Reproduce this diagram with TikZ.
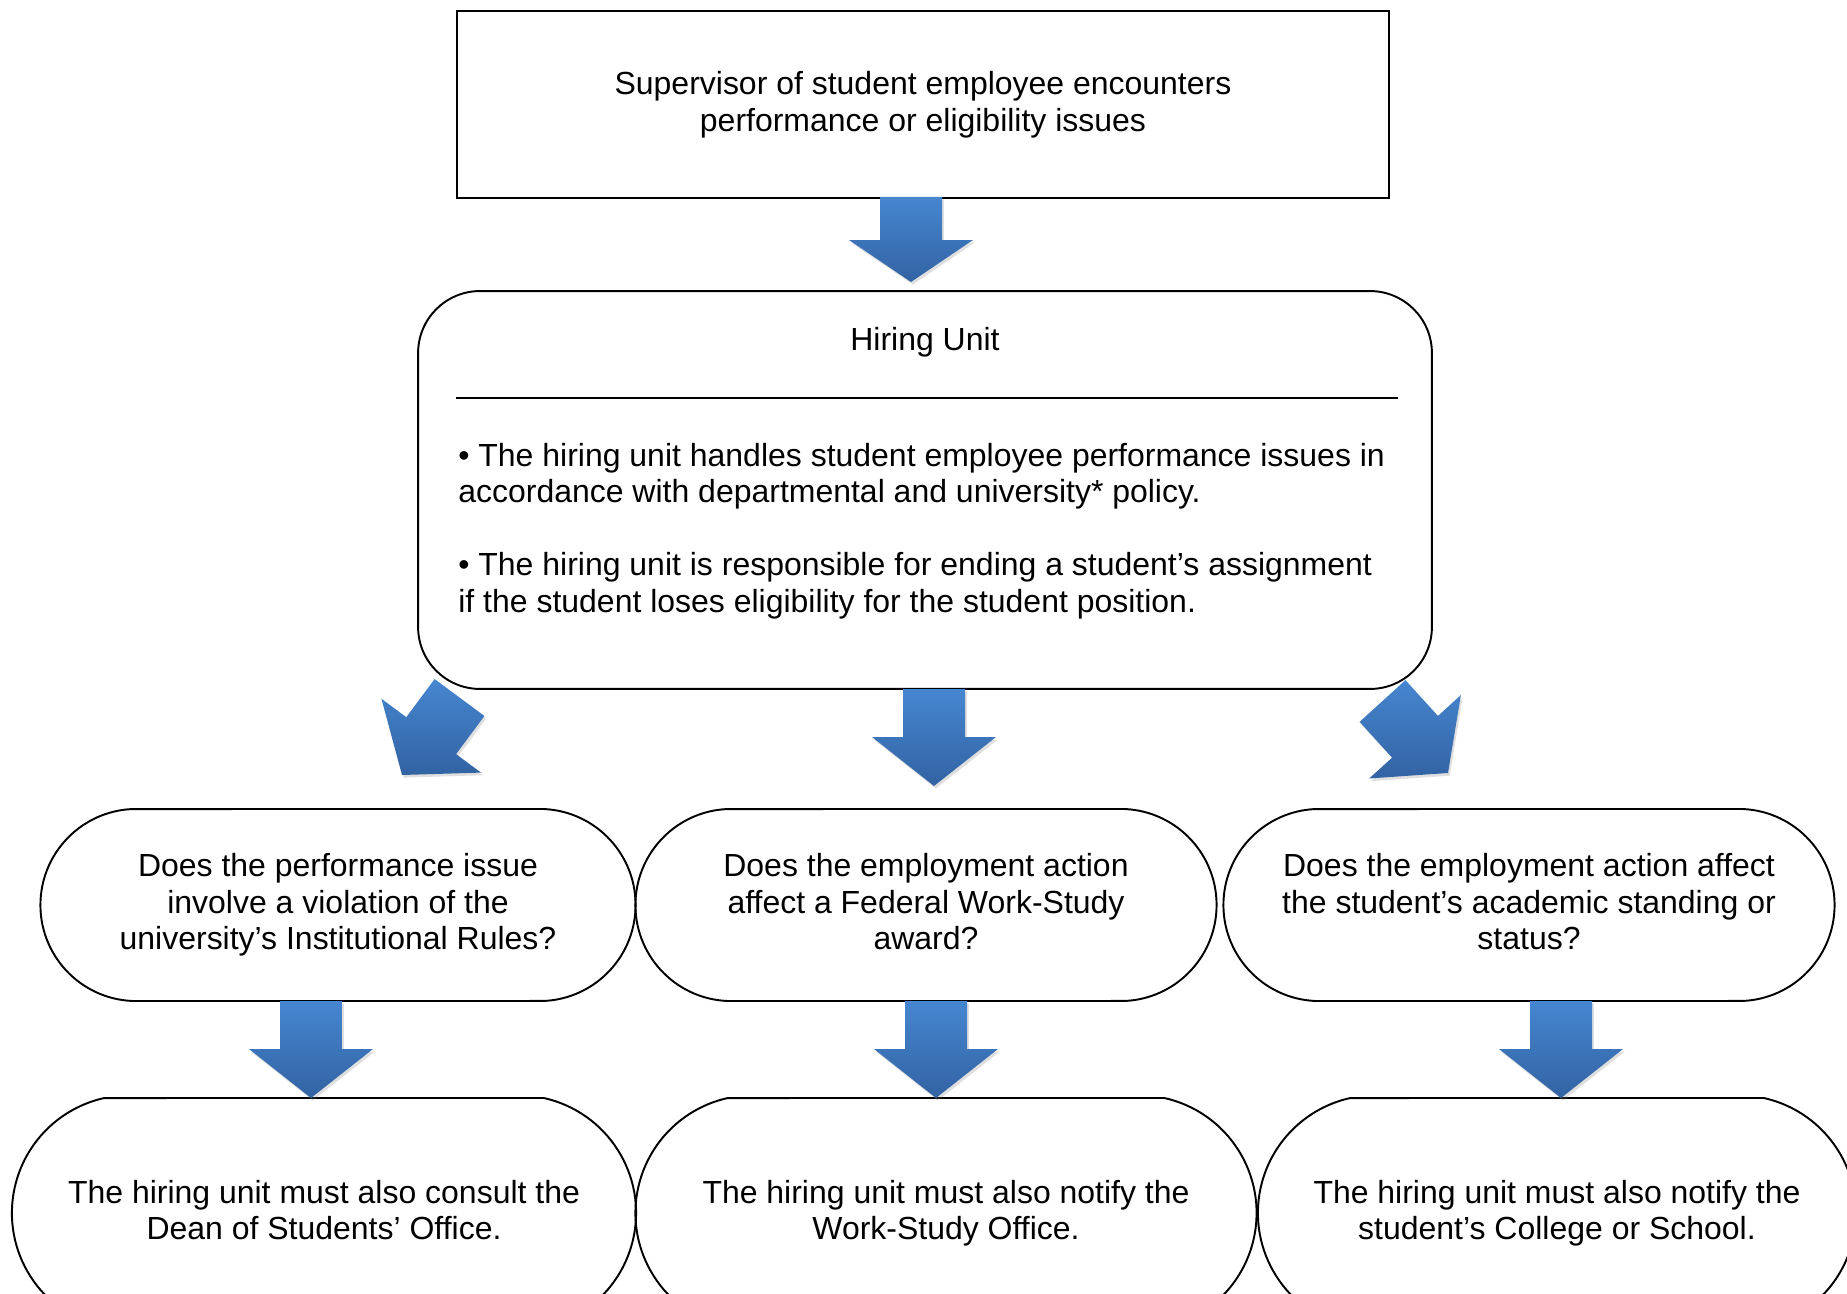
\documentclass[tikz,border=0pt]{standalone}
\usepackage{fontspec}
\setmainfont{Liberation Sans}
\usetikzlibrary{calc,shapes.misc,shadows}
\definecolor{arrowtop}{RGB}{70,134,208}
\definecolor{arrowbot}{RGB}{50,99,163}

\newcommand{\blockarrow}[5]{%
\coordinate (ba-n) at ($(#2)!#5!(#1)$);
\shade[blockfill] ($(#1)!#3!90:(#2)$) -- ($(ba-n)!#3!-90:(#1)$) -- ($(ba-n)!#4!-90:(#1)$) -- (#2)
  -- ($(ba-n)!#4!90:(#1)$) -- ($(ba-n)!#3!90:(#1)$) -- ($(#1)!#3!-90:(#2)$) -- cycle;
}

\begin{document}
\begin{tikzpicture}[x=0.02cm, y=-0.02cm,
  txt/.style = {font=\fontsize{18.2pt}{20.8pt}\selectfont, align=center},
  plainbox/.style = {txt, draw, line width=1.1pt, rectangle},
  roundbox/.style = {txt, draw, line width=1.1pt, rectangle, rounded corners=1.24cm},
  question/.style = {txt, draw, line width=1.1pt, rounded rectangle, rounded rectangle arc length=175, minimum height=3.84cm},
  outcome/.style = {txt, draw, line width=1.1pt, rounded rectangle, rounded rectangle arc length=155, minimum height=4.6cm},
  blockfill/.style = {top color=arrowtop, bottom color=arrowbot, drop shadow={opacity=0.25, shadow xshift=1pt, shadow yshift=-1.5pt}}]
\useasboundingbox (0,0) rectangle (1847,1294);

\path (923,104.5) node[plainbox, minimum width=18.64cm, minimum height=3.74cm] (top) {Supervisor of student employee encounters\\performance or eligibility issues};

\path (925,490) node[roundbox, minimum width=20.28cm, minimum height=7.96cm] (hire) {};
\path (925,342) node[txt] (hiretitle) {Hiring Unit};
\draw[line width=1.1pt] (456,398) -- (1398,398);
\path (458,531) node[txt, align=left, anchor=west, inner sep=0pt] (hirebody) {• The hiring unit handles student employee performance issues in\\accordance with departmental and university* policy.\\[20.8pt]• The hiring unit is responsible for ending a student’s assignment\\if the student loses eligibility for the student position.};

\path (338,905) node[question, minimum width=12.14cm] (rules) {Does the performance issue\\involve a violation of the\\university’s Institutional Rules?\vphantom{y}};
\path (926,905) node[question, minimum width=11.86cm] (fws) {Does the employment action\\affect a Federal Work-Study\\award?\vphantom{y}};
\path (1529,905) node[question, minimum width=12.46cm] (acad) {Does the employment action affect\\the student’s academic standing or\\status?\vphantom{y}};

\path (324,1213) node[outcome, minimum width=12.72cm] (dean) {The hiring unit must also consult the\\Dean of Students’ Office.\vphantom{y}};
\path (946,1213) node[outcome, minimum width=12.66cm] (wso) {The hiring unit must also notify the\\Work-Study Office.\vphantom{y}};
\path (1557,1213) node[outcome, minimum width=12.2cm] (college) {The hiring unit must also notify the\\student’s College or School.\vphantom{y}};

\coordinate (t0) at (911,197);
\coordinate (h0) at (911,282);
\coordinate (t1) at (459.5,697.5);
\coordinate (h1) at (402,775);
\coordinate (t2) at (934,689);
\coordinate (h2) at (934,786);
\coordinate (t3) at (1382.5,701);
\coordinate (h3) at (1448,773);
\coordinate (t4) at (311,1001);
\coordinate (h4) at (311,1098);
\coordinate (t5) at (936,1001);
\coordinate (h5) at (936,1098);
\coordinate (t6) at (1561,1001);
\coordinate (h6) at (1561,1098);

\blockarrow{t0}{h0}{0.62cm}{1.24cm}{0.84cm}
\blockarrow{t1}{h1}{0.62cm}{1.24cm}{0.98cm}
\blockarrow{t2}{h2}{0.62cm}{1.24cm}{0.98cm}
\blockarrow{t3}{h3}{0.62cm}{1.24cm}{0.98cm}
\blockarrow{t4}{h4}{0.62cm}{1.24cm}{0.98cm}
\blockarrow{t5}{h5}{0.62cm}{1.24cm}{0.98cm}
\blockarrow{t6}{h6}{0.62cm}{1.24cm}{0.98cm}
\end{tikzpicture}
\end{document}
